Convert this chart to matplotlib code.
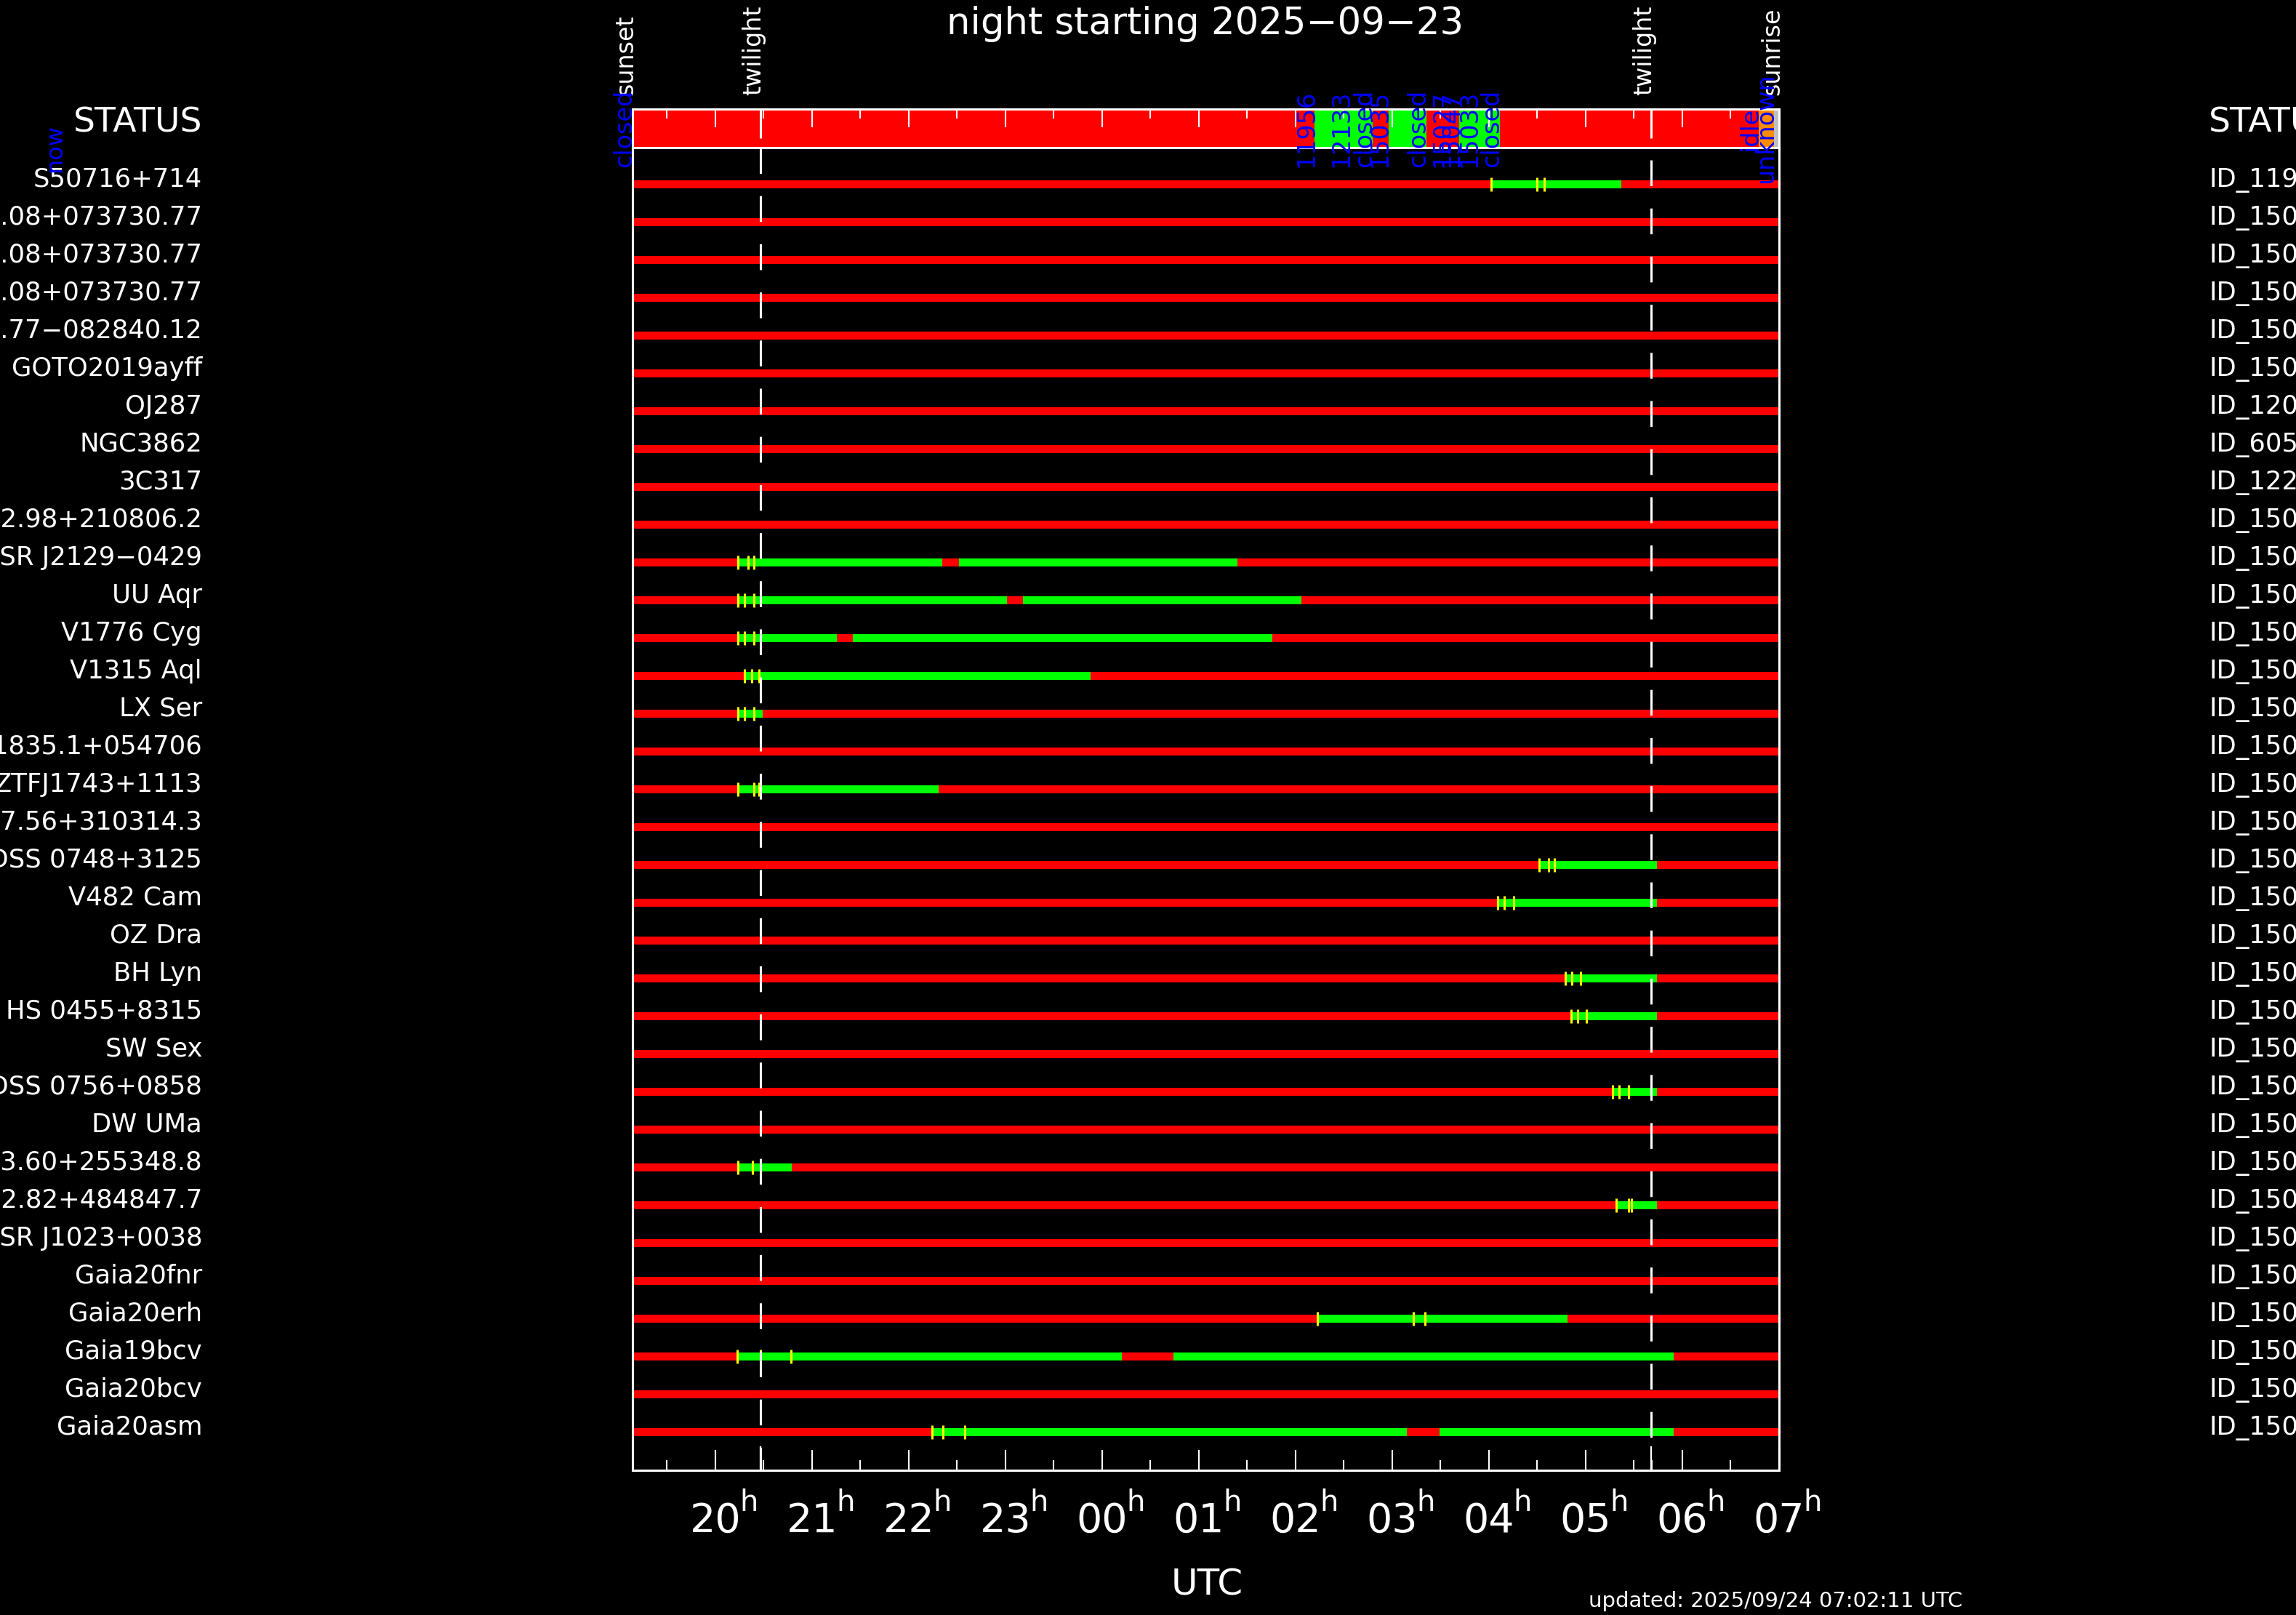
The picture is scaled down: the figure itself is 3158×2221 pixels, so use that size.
import matplotlib
matplotlib.use("Agg")
import matplotlib.pyplot as plt
from matplotlib import transforms

plt.rcParams['font.family'] = ['DejaVu Sans']
plt.rcParams['lines.scale_dashes'] = False

W, H = 3158, 2221
DPI = 100

# night in UT hours, hours after midnight counted as 24+
sunset = 19.143
sunrise = 31.0
twilight_eve = 20.466
twilight_morn = 29.675

title = "night starting 2025\u221209\u221223"
updated = "updated: 2025/09/24 07:02:11 UTC"

hour_ticks = [20, 21, 22, 23, 24, 25, 26, 27, 28, 29, 30, 31]
hour_labels = ["20", "21", "22", "23", "00", "01", "02", "03", "04", "05", "06", "07"]

names = [
    "S50716+714",
    "ZTF J080628.08+073730.77",
    "ZTF J080628.08+073730.77",
    "ZTF J080628.08+073730.77",
    "ZTF J101434.77\u2212082840.12",
    "GOTO2019ayff",
    "OJ287",
    "NGC3862",
    "3C317",
    "ZTF J151512.98+210806.2",
    "PSR J2129\u22120429",
    "UU Aqr",
    "V1776 Cyg",
    "V1315 Aql",
    "LX Ser",
    "XMM J1835.1+054706",
    "ZTFJ1743+1113",
    "SDSS J074107.56+310314.3",
    "SDSS 0748+3125",
    "V482 Cam",
    "OZ Dra",
    "BH Lyn",
    "HS 0455+8315",
    "SW Sex",
    "SDSS 0756+0858",
    "DW UMa",
    "SDSS J074813.60+255348.8",
    "SDSS J081402.82+484847.7",
    "PSR J1023+0038",
    "Gaia20fnr",
    "Gaia20erh",
    "Gaia19bcv",
    "Gaia20bcv",
    "Gaia20asm",
]

ids = [
    "ID_11956", "ID_15001", "ID_15002", "ID_15003", "ID_15004", "ID_15005",
    "ID_12043", "ID_6051", "ID_12210", "ID_15006", "ID_15007", "ID_15008",
    "ID_15009", "ID_15010", "ID_15011", "ID_15012", "ID_15013", "ID_15014",
    "ID_15015", "ID_15016", "ID_15017", "ID_15018", "ID_15019", "ID_15020",
    "ID_15021", "ID_15022", "ID_15023", "ID_15024", "ID_15025", "ID_15026",
    "ID_15027", "ID_15028", "ID_15029", "ID_15030",
]

# observable windows (green) per target
windows = [
    [(28.02, 29.37)],
    [], [], [], [], [], [], [], [], [],
    [(20.23, 22.344), (22.52, 25.40)],
    [(20.23, 23.015), (23.177, 26.06)],
    [(20.23, 21.256), (21.418, 25.76)],
    [(20.30, 23.878)],
    [(20.23, 20.49)],
    [],
    [(20.23, 22.31)],
    [],
    [(28.52, 29.74)],
    [(28.088, 29.74)],
    [],
    [(28.79, 29.74)],
    [(28.85, 29.74)],
    [],
    [(29.28, 29.74)],
    [],
    [(20.23, 20.79)],
    [(29.316, 29.74)],
    [], [],
    [(26.226, 28.81)],
    [(20.226, 24.20), (24.737, 29.91)],
    [],
    [(22.244, 27.154), (27.49, 29.91)],
]

# yellow markers per target
marks = [
    [28.02, 28.50, 28.57],
    [], [], [], [], [], [], [], [], [],
    [20.23, 20.337, 20.40],
    [20.23, 20.30, 20.40],
    [20.23, 20.30, 20.40],
    [20.30, 20.375, 20.455],
    [20.23, 20.30, 20.40],
    [],
    [20.23, 20.40, 20.455],
    [],
    [28.52, 28.615, 28.68],
    [28.088, 28.16, 28.258],
    [],
    [28.79, 28.86, 28.945],
    [28.85, 28.915, 29.01],
    [],
    [29.28, 29.345, 29.44],
    [],
    [20.23, 20.38],
    [29.316, 29.44, 29.47],
    [], [],
    [26.226, 27.22, 27.34],
    [20.226, 20.47, 20.78],
    [],
    [22.244, 22.35, 22.58],
]

# telescope status bar
status_open = [(26.195, 26.80), (26.96, 27.35), (27.69, 28.11)]
status_idle = (30.79, 30.95)
status_unknown = (30.95, 31.0)
status_times = [19.143, 26.195, 26.56, 26.80, 26.96, 27.35, 27.60, 27.69, 27.88, 28.11, 30.79, 30.95]
status_texts = ["closed", "11956", "12133", "closed", "15035", "closed",
                "15027", "15047", "15033", "closed", "idle", "unknown"]


def fx(px):
    return px / W


def fy(py):
    return 1 - py / H


fig = plt.figure(figsize=(W / DPI, H / DPI), dpi=DPI, facecolor='black')

# row i sits at 253.8 + 52*i pixels
row_top = (203 - 253.8) / 52
row_bot = (2022 - 253.8) / 52

ax = fig.add_axes([fx(870), fy(2022), fx(2447) - fx(870), fy(203) - fy(2022)])
axs = fig.add_axes([fx(870), fy(203), fx(2447) - fx(870), fy(150) - fy(203)])

for a in (ax, axs):
    a.set_facecolor('black')
    a.set_xlim(sunset, sunrise)
    for sp in a.spines.values():
        sp.set_color('white')
        sp.set_linewidth(2.2)
    a.tick_params(axis='y', left=False, right=False, labelleft=False)

ax.set_ylim(row_bot, row_top)
axs.set_ylim(0, 1)

# bars
for i in range(len(names)):
    ax.barh(i, sunrise - sunset, left=sunset, height=0.206, color='#ff0000', lw=0, zorder=2)
    for s, e in windows[i]:
        ax.barh(i, e - s, left=s, height=0.206, color='#00ff00', lw=0, zorder=3)
    if marks[i]:
        ax.vlines(marks[i], i - 0.18, i + 0.18, color='#ffff00', lw=2.2, zorder=4)

# twilight dashed lines
on_pt, off_pt = 35.5 * 0.72, 30.7 * 0.72
ax.plot([twilight_eve, twilight_eve], [row_top, row_bot], color='white', lw=2.2,
        linestyle=(0, (on_pt, off_pt)), zorder=5)
ax.plot([twilight_morn, twilight_morn], [row_top, row_bot], color='white', lw=2.2,
        linestyle=(49.2 * 0.72, (on_pt, off_pt)), zorder=5)
ax.vlines([twilight_eve, twilight_morn], row_bot - 33 / 52, row_bot, color='white', lw=1.6, zorder=5)

# bottom ticks
ax.set_xticks(hour_ticks)
ax.set_xticks([t - 0.5 for t in hour_ticks], minor=True)
ax.tick_params(axis='x', which='major', direction='in', length=20, width=1.5,
               color='white', bottom=True, top=False, labelbottom=False)
ax.tick_params(axis='x', which='minor', direction='in', length=10, width=1.5,
               color='white', bottom=True, top=False)

# status bar
axs.axvspan(sunset, sunrise, color='#ff0000', lw=0)
for s, e in status_open:
    axs.axvspan(s, e, color='#00ff00', lw=0)
axs.axvspan(*status_idle, color='#ff8c00', lw=0)
axs.axvspan(*status_unknown, color='#c0c0c0', lw=0)
axs.set_xticks(hour_ticks)
axs.set_xticks([t - 0.5 for t in hour_ticks], minor=True)
axs.xaxis.set_ticks_position('top')
axs.tick_params(axis='x', which='major', direction='in', length=18, width=1.5,
                color='white', top=True, bottom=False, labeltop=False, labelbottom=False)
axs.tick_params(axis='x', which='minor', direction='in', length=9.4, width=1.5,
                color='white', top=True, bottom=False)
axs.vlines([twilight_eve, twilight_morn], 1 - 40 / 53, 1, color='white', lw=2.2)
for t, s in zip(status_times, status_texts):
    axs.text(t - 0.085, 0.5, s, rotation=90, ha='center', va='center', color='#0000ff',
             fontsize=24, clip_on=False, zorder=6)

# sunset / twilight / sunrise labels
tx = transforms.blended_transform_factory(ax.transData, fig.transFigure)
for t, s in [(sunset, "sunset"), (twilight_eve, "twilight"),
             (twilight_morn, "twilight"), (sunrise, "sunrise")]:
    ax.text(t - 0.07, fy(131), s, transform=tx, rotation=90, ha='center', va='bottom',
            color='white', fontsize=24, clip_on=False)

# target names and ids
ty = transforms.blended_transform_factory(fig.transFigure, ax.transData)
for i, (n, d) in enumerate(zip(names, ids)):
    ax.text(fx(278), i + 0.06, n, transform=ty, ha='right', va='baseline',
            color='white', fontsize=25.5, clip_on=False)
    ax.text(fx(3038), i + 0.06, d, transform=ty, ha='left', va='baseline',
            color='white', fontsize=25.5, clip_on=False)

fig.text(fx(278), fy(181), "STATUS", ha='right', va='baseline', color='white', fontsize=34)
fig.text(fx(3038), fy(181), "STATUS", ha='left', va='baseline', color='white', fontsize=34)
fig.text(fx(76), fy(204), "now", rotation=90, ha='center', va='center', color='#0000ff', fontsize=23)

# hour labels with superscript h
th = transforms.offset_copy(tx, fig=fig, x=33, y=0, units='dots')
for t, lab in zip(hour_ticks, hour_labels):
    ax.text(t, fy(2107), lab, transform=tx, ha='center', va='baseline',
            color='white', fontsize=40, clip_on=False)
    ax.text(t, fy(2078), "h", transform=th, ha='left', va='baseline',
            color='white', fontsize=29, clip_on=False)

fig.text(fx(1658), fy(47), title, ha='center', va='baseline', color='white', fontsize=37)
fig.text(fx(1660), fy(2193), "UTC", ha='center', va='baseline', color='white', fontsize=36)
fig.text(fx(2185), fy(2210), updated, ha='left', va='baseline', color='white', fontsize=21)

fig.savefig("out.png", dpi=DPI, facecolor='black')
